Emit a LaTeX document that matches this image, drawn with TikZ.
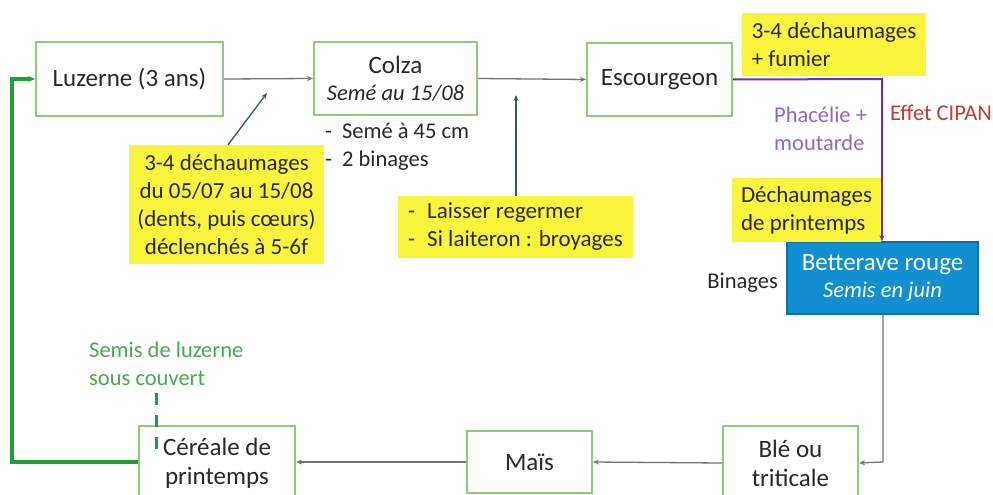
\documentclass[tikz,border=0pt]{standalone}
\usepackage{fontspec}
\setmainfont{Carlito}
\usetikzlibrary{arrows.meta}
\definecolor{boxgreen}{RGB}{140,205,120}
\definecolor{lgreen}{RGB}{30,160,50}
\definecolor{tgreen}{RGB}{70,170,80}
\definecolor{purp}{RGB}{112,48,160}
\definecolor{tpurp}{RGB}{150,100,200}
\definecolor{tred}{RGB}{192,60,55}
\definecolor{yel}{RGB}{250,245,60}
\definecolor{bblue}{RGB}{17,143,208}
\definecolor{bblueb}{RGB}{12,110,166}
\definecolor{ablue}{RGB}{46,84,130}
\definecolor{cgray}{RGB}{115,115,115}
\definecolor{txt}{RGB}{40,40,40}
\tikzset{
  crop/.style={draw=boxgreen, line width=2pt, fill=white, text=txt, align=center,
    inner sep=0pt, font=\fontsize{25}{29}\selectfont},
  note/.style={fill=yel, text=txt, inner sep=0pt, font=\fontsize{23}{28}\selectfont},
  plain/.style={text=txt, inner sep=0pt, align=left, font=\fontsize{22.5}{28}\selectfont},
  conn/.style={draw=cgray, line width=1.3pt, -{Stealth[length=6pt,width=5pt]}},
  call/.style={draw=ablue, line width=1.3pt, -{Stealth[length=6pt,width=5pt]}},
}
\begin{document}
\begin{tikzpicture}[x=1pt,y=-1pt]
\useasboundingbox (0,0) rectangle (993,495);
\fill[white] (0,0) rectangle (993,495);

% crop boxes
\node[crop, minimum width=187pt, minimum height=74pt] (luz) at (129.5,79) {Luzerne (3 ans)};
\node[crop, minimum width=163pt, minimum height=73pt] (colza) at (395.5,78.5) {Colza\\[-2pt]{\fontsize{22.5}{26}\selectfont\itshape Semé au 15/08}};
\node[crop, minimum width=145pt, minimum height=73pt] (esc) at (659.5,79.5) {Escourgeon};
\node[draw=bblueb, line width=1.4pt, fill=bblue, text=white, align=center, inner sep=0pt,
  minimum width=191pt, minimum height=72pt, font=\fontsize{25}{29}\selectfont] (bet) at (882.5,278)
  {Betterave rouge\\[-2pt]{\fontsize{22.5}{26}\selectfont\itshape Semis en juin}};
\node[crop, minimum width=135pt, minimum height=74pt] (ble) at (790.5,463) {Blé ou\\triticale};
\node[crop, minimum width=125pt, minimum height=62pt] (mais) at (529.5,462) {Maïs};
\node[crop, minimum width=156pt, minimum height=74pt] (cer) at (217,463) {Céréale de\\printemps};

% notes
\node[note, align=center, minimum width=195pt, minimum height=119pt] (n1) at (226.5,204.5)
  {3-4 déchaumages\\du 05/07 au 15/08\\(dents, puis cœurs)\\déclenchés à 5-6f};
\node[note, align=left, minimum width=235pt, minimum height=62pt] (n2) at (515.5,227)
  {-\hspace{12pt}Laisser regermer\\-\hspace{12pt}Si laiteron : broyages};
\node[note, align=left, minimum width=184pt, minimum height=63pt] (n3) at (834,44.5)
  {3-4 déchaumages\\+ fumier};
\node[note, align=left, minimum width=149pt, minimum height=64pt] (n4) at (806.5,210)
  {Déchaumages\\de printemps};

% plain texts
\node[plain, anchor=west] (colzanote) at (325,147) {-\hspace{10pt}Semé à 45 cm\\-\hspace{10pt}2 binages};
\node[plain, anchor=west, text=tpurp] (phac) at (774,129) {Phacélie +\\moutarde};
\node[plain, anchor=west, text=tred] (cipan) at (890,113) {Effet CIPAN};
\node[plain, anchor=east] (bin) at (778,283) {Binages};
\node[plain, anchor=west, text=tgreen] (semis) at (89,363.5) {Semis de luzerne\\sous couvert};

% coordinates
\coordinate (a1) at (267,93);
\coordinate (a2) at (516,95);
\coordinate (pc) at (882,79);
\coordinate (bc) at (883,462);
\coordinate (gb) at (12,462);
\coordinate (gt) at (12,79);
\coordinate (d1) at (156,393);
\coordinate (d2) at (156,452);

% connectors
\draw[conn] (luz.east) -- (colza.west);
\draw[conn] (colza.east) -- (esc.west);
\draw[conn] (bet.south -| bc) -- (bc) -- (ble.east);
\draw[conn] (ble.west) -- (mais.east);
\draw[conn] (mais.west) -- (cer.east |- mais.west);
\draw[call] (n1.north -| 228,0) -- (a1);
\draw[call] (n2.north -| a2) -- (a2);
\draw[draw=purp, line width=2pt, -{Stealth[length=6pt,width=5pt]}] (esc.east) -- (pc) -- (bet.north -| pc);
\draw[draw=lgreen, line width=3.5pt, -{Stealth[length=7pt,width=6pt]}] (cer.west |- gb) -- (gb) -- (gt) -- (luz.west);
\draw[draw=lgreen, line width=3pt, dash pattern=on 12pt off 10pt] (d1) -- (d2);
\end{tikzpicture}
\end{document}
